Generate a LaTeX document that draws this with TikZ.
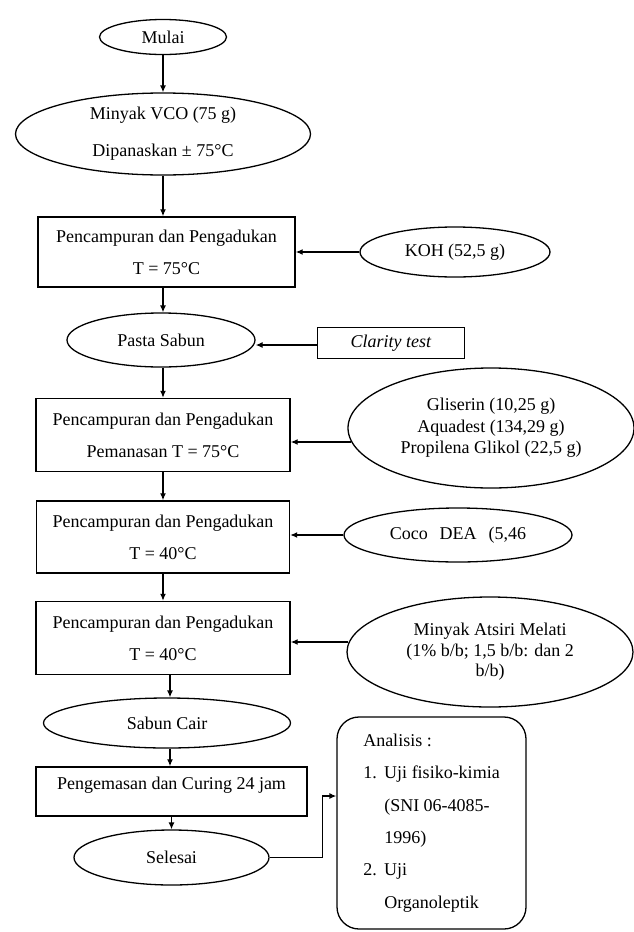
\documentclass[tikz,border=0pt]{standalone}
\usepackage{fontspec}
\setmainfont{Liberation Serif}
\usetikzlibrary{shapes.geometric,arrows.meta,calc}
\begin{document}
\begin{tikzpicture}[x=1pt,y=-1pt,
  every node/.style={font=\fontsize{18}{32}\selectfont},
  box/.style={draw,line width=1.4pt,rectangle,inner sep=0pt,align=center},
  oval/.style={draw,line width=1.3pt,ellipse,inner sep=0pt,align=center},
  arr/.style={line width=1.3pt,-{Latex[length=7pt,width=6pt]}}]
\useasboundingbox (0,0) rectangle (634,932);
\coordinate (cA) at (163,0);
\coordinate (cB) at (170,0);

\node[oval,minimum width=127pt,minimum height=35pt] (mulai) at (163,37) {Mulai};
\node[oval,minimum width=295pt,minimum height=82pt,font=\fontsize{18}{37}\selectfont] (vco) at (163,134) {Minyak VCO (75 g)\\Dipanaskan ± 75°C};
\node[box,minimum width=257pt,minimum height=70pt] (b1) at (166.5,252) {Pencampuran dan Pengadukan\\T = 75°C};
\node[oval,minimum width=190pt,minimum height=50pt] (koh) at (455,252) {KOH (52,5 g)};
\node[oval,minimum width=188pt,minimum height=54pt] (pasta) at (161,340) {Pasta Sabun};
\node[box,line width=1.2pt,minimum width=147pt,minimum height=31pt] (clar) at (391,343) {\textit{Clarity test}};
\node[box,minimum width=254pt,minimum height=73pt] (b2) at (163,435) {Pencampuran dan Pengadukan\\Pemanasan T = 75°C};
\node[oval,minimum width=286pt,minimum height=120pt,font=\fontsize{18}{21.5}\selectfont] (ing) at (491,428) {Gliserin (10,25 g)\\Aquadest (134,29 g)\\Propilena Glikol (22,5 g)};
\node[box,minimum width=253pt,minimum height=72pt] (b3) at (163,537) {Pencampuran dan Pengadukan\\T = 40°C};
\node[oval,minimum width=228pt,minimum height=54pt] (coco) at (458,535) {Coco\hspace{12pt}DEA\hspace{12pt}(5,46};
\node[box,minimum width=254pt,minimum height=73pt] (b4) at (163,638) {Pencampuran dan Pengadukan\\T = 40°C};
\node[oval,minimum width=286pt,minimum height=110pt,font=\fontsize{18}{20.5}\selectfont] (mel) at (490,652) {Minyak Atsiri Melati\\(1\% b/b; 1,5 b/b: dan 2\\b/b)};
\node[oval,minimum width=247pt,minimum height=50pt] (cair) at (167,723) {Sabun Cair};
\node[box,minimum width=271pt,minimum height=49pt,text depth=17pt] (b5) at (171.5,791.5) {Pengemasan dan Curing 24 jam};
\node[oval,minimum width=195pt,minimum height=55pt] (sel) at (171.5,857.5) {Selesai};
\node[draw,line width=1.3pt,rounded corners=22pt,minimum width=189pt,minimum height=212pt,inner sep=0pt,align=left,font=\fontsize{18}{32.4}\selectfont] (ana) at (431.5,823) {Analisis :\\\makebox[21pt][l]{1.}Uji fisiko-kimia\\\hspace*{21pt}(SNI 06-4085-\\\hspace*{21pt}1996)\\\makebox[21pt][l]{2.}Uji\\\hspace*{21pt}Organoleptik};

\draw[arr] (mulai) -- (vco);
\draw[arr] (vco.south) -- (vco.south |- b1.north);
\draw[arr] (koh) -- (b1);
\draw[arr] (b1.south -| cA) -- (pasta.north -| cA);
\draw[arr] ($(clar.west)+(0,2)$) -- ($(clar.west -| pasta.east)+(0,2)$);
\draw[arr] (pasta.south -| b2.north) -- (b2.north);
\draw[arr] ($(ing.west)+(4,14)$) -- ($(b2.east)+(0,7)$);
\draw[arr] (b2) -- (b3);
\draw[arr] (coco.west) -- (coco.west -| b3.east);
\draw[arr] (b3) -- (b4);
\draw[arr] ($(mel.west)+(2,-10)$) -- ($(b4.east)+(0,4)$);
\draw[arr] (b4.south -| cB) -- (cair.north -| cB);
\draw[arr] (cair.south -| cB) -- (b5.north -| cB);
\draw[arr] (b5) -- (sel);
\draw[arr] (sel.east) -- ++(53,0) |- ($(ana.west)+(0,-27)$);
\end{tikzpicture}
\end{document}
